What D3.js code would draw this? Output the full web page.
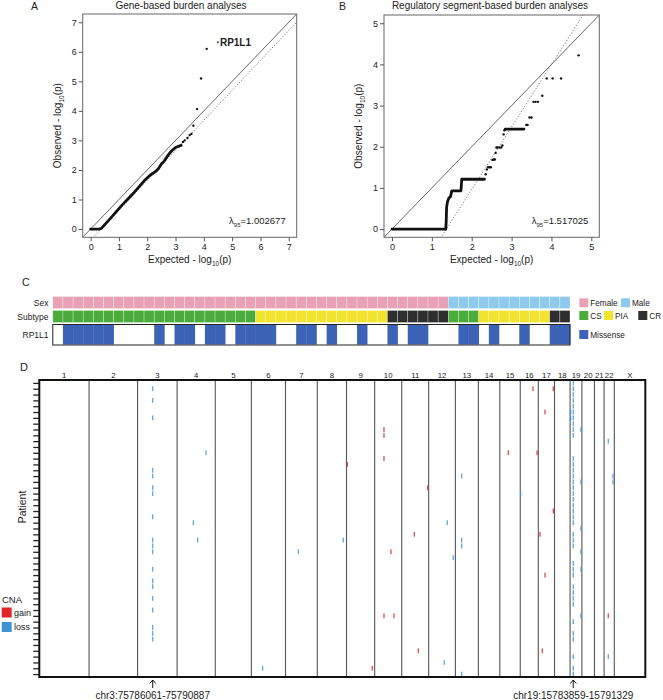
<!DOCTYPE html>
<html>
<head>
<meta charset="utf-8">
<script src="https://cdn.jsdelivr.net/npm/d3@7"></script>
<style>
  body { margin: 0; background: #fff; }
  text { font-family: "Liberation Sans", Arial, sans-serif; fill: #222; }
</style>
</head>
<body>
<div id="fig"></div>
<script>
// ---------------- data ----------------
// panel A: gene-based QQ (expected, observed)
var geneQQDense = [[0,0],[0.1,0],[0.2,0],[0.3,0],[0.38,0.02],[0.5,0.15],[0.7,0.36],[0.9,0.58],[1.1,0.8],[1.3,1.0],
  [1.5,1.2],[1.7,1.42],[1.9,1.64],[2.1,1.82],[2.3,1.95],[2.4,2.05],[2.5,2.2],[2.6,2.3],[2.7,2.45],[2.8,2.58],
  [2.9,2.68],[3.0,2.76],[3.1,2.8],[3.2,2.83]];
var geneQQTail = [[3.26,2.95],[3.32,3.0],[3.42,3.08],[3.5,3.18],[3.56,3.22],[3.63,3.5],[3.76,4.06],[3.9,5.1],[4.1,6.1]];
var geneTicks = [0,1,2,3,4,5,6,7];
var geneFit = {slope: 1.015, intercept: -0.38};
var geneLambda = "1.002677";
var geneTop = {label: "\u00b7RP1L1", x: 4.45, y: 6.31};

// panel B: regulatory segment QQ
var regQQDense = [[0,0],[0.5,0],[1.0,0],[1.35,0],[1.36,0.18],[1.37,0.52],[1.39,0.66],[1.43,0.76],[1.47,0.79],
  [1.5,0.93],[1.6,0.93],[1.73,0.93],[1.75,1.21],[2.0,1.21],[2.32,1.21]];
var regQQMid = [[2.84,2.43],[3.0,2.43],[3.2,2.43],[3.31,2.43]];
var regQQTail = [[2.35,1.33],[2.38,1.45],[2.41,1.5],[2.45,1.5],[2.48,1.5],[2.52,1.68],[2.55,1.69],[2.58,1.69],
  [2.6,1.85],[2.62,1.98],[2.65,1.98],[2.7,1.98],[2.74,1.98],[2.77,2.03],[2.8,2.3],[2.82,2.4],
  [3.37,2.53],[3.4,2.53],[3.45,2.71],[3.5,2.71],[3.55,3.09],[3.6,3.09],[3.66,3.09],[3.77,3.24],
  [3.88,3.66],[4.03,3.66],[4.24,3.66],[4.68,4.22]];
var regTicks = [0,1,2,3,4,5];
var regFit = {slope: 1.517, intercept: -2.07};
var regLambda = "1.517025";

// panel C: 51 samples
var sexRuns = [["Female",39],["Male",12]];
var subtypeRuns = [["CS",20],["PIA",13],["CR",6],["CS",3],["PIA",7],["CR",2]];
var missenseSamples = [1,2,3,4,5,10,12,13,15,16,18,19,20,21,24,25,27,30,33,35,36,40,41,43,46,49,50];

// panel D: genome (hg19, Mb) and CNA calls per patient
var chromNames = ["1","2","3","4","5","6","7","8","9","10","11","12","13","14","15","16","17","18","19","20","21","22","X"];
var chromLengthsMb = [249.25,243.2,198.02,191.15,180.92,171.12,159.14,146.36,141.21,135.53,135.01,133.85,
  115.17,107.35,102.53,90.35,81.2,78.08,59.13,63.03,48.13,51.3,155.27];
var chr3LossPatients = [1,3,6,15,16,18,19,23,27,28,29,32,34,35,37,39,42,43,44];
var chr19LossPatients = [0,1,2,3,4,5,6,7,8,9,13,14,15,16,17,18,19,20,21,22,23,24,26,27,28,31,32,33,35,36,37,38,41,43,44,47,49,50];
// [chromosome, position Mb, patient, type]
var otherCNA = [
  ["4",144.8,12,"loss"],["4",81,24,"loss"],["4",103,27,"loss"],["6",56.6,49,"loss"],["7",64,29,"loss"],
  ["8",130,27,"loss"],["9",4,14,"gain"],["10",46.6,8,"gain"],["10",46.6,9,"gain"],["10",46.6,13,"gain"],
  ["11",130,18,"gain"],["13",31.6,16,"loss"],["15",42.6,12,"gain"],["16",2,19,"loss"],["16",63.6,1,"gain"],
  ["16",84,12,"gain"],["17",75,1,"gain"],["17",33.6,5,"gain"],["17",75,22,"gain"],["19",3,5,"loss"],["19",3,6,"loss"],
  ["19",54.6,8,"loss"],["19",54.6,17,"loss"],["19",54.6,25,"loss"],["19",54.6,29,"loss"],["19",54.6,32,"loss"],
  ["19",54.6,40,"loss"],["22",21,10,"loss"],["22",44.6,16,"loss"],["22",44.6,17,"loss"],["12",93,24,"loss"],
  ["11",63,26,"gain"],["17",8.5,26,"gain"],["10",81.6,29,"gain"],["13",31.6,27,"loss"],["13",31.6,28,"loss"],
  ["12",123,30,"loss"],["17",33.6,33,"gain"],["10",46.6,40,"gain"],["10",96.7,40,"gain"],["11",83,46,"gain"],
  ["12",78,48,"loss"],["9",129,49,"gain"],["13",31.6,50,"loss"],["17",20,46,"gain"],["22",21,40,"gain"],["22",21,47,"loss"]
];
var markedLoci = [["3",75.786061,"chr3:75786061-75790887"],["19",15.783859,"chr19:15783859-15791329"]];

// ---------------- drawing ----------------
var W = 663, H = 700;
var svg = d3.select("#fig").append("svg").attr("width", W).attr("height", H);

function addLogLabel(sel, pre) {
  sel.append("tspan").text(pre + " - log");
  sel.append("tspan").attr("font-size", 6.5).attr("dy", 3).text("10");
  sel.append("tspan").attr("dy", -3).text("(p)");
}

function qqPanel(o) {
  var x = d3.scaleLinear().domain(o.domain).range([o.left, o.right]);
  var y = d3.scaleLinear().domain(o.domain).range([o.bottom, o.top]);
  var g = svg.append("g");

  g.append("clipPath").attr("id", o.id + "clip").append("rect")
    .attr("x", o.left).attr("y", o.top).attr("width", o.right - o.left).attr("height", o.bottom - o.top);

  var d0 = o.domain[0], d1 = o.domain[1];
  var lines = g.append("g").attr("clip-path", "url(#" + o.id + "clip)");
  lines.append("line")
    .attr("x1", x(d0)).attr("y1", y(d0)).attr("x2", x(d1)).attr("y2", y(d1))
    .attr("stroke", "#555").attr("stroke-width", 0.9);
  lines.append("line")
    .attr("x1", x(d0)).attr("y1", y(o.fit.slope * d0 + o.fit.intercept))
    .attr("x2", x(d1)).attr("y2", y(o.fit.slope * d1 + o.fit.intercept))
    .attr("stroke", "#666").attr("stroke-width", 0.9).attr("stroke-dasharray", "1.2,1.8");

  var line = d3.line().x(function(d){ return x(d[0]); }).y(function(d){ return y(d[1]); });
  o.dense.forEach(function(run) {
    lines.append("path").datum(run).attr("d", line)
      .attr("fill", "none").attr("stroke", "#111").attr("stroke-width", 2.8)
      .attr("stroke-linejoin", "round").attr("stroke-linecap", "round");
  });
  lines.selectAll("circle.pt").data(o.tail).enter().append("circle")
    .attr("class", "pt")
    .attr("cx", function(d){ return x(d[0]); })
    .attr("cy", function(d){ return y(d[1]); })
    .attr("r", 1.2).attr("fill", "#111");

  g.append("rect").attr("x", o.left).attr("y", o.top)
    .attr("width", o.right - o.left).attr("height", o.bottom - o.top)
    .attr("fill", "none").attr("stroke", "#666").attr("stroke-width", 1);

  var xa = g.append("g").attr("transform", "translate(0," + o.bottom + ")")
    .call(d3.axisBottom(x).tickValues(o.ticks).tickSize(4).tickPadding(2).tickFormat(d3.format("d")));
  var ya = g.append("g").attr("transform", "translate(" + o.left + ",0)")
    .call(d3.axisLeft(y).tickValues(o.ticks).tickSize(4).tickPadding(2).tickFormat(d3.format("d")));
  [xa, ya].forEach(function(a) {
    a.select(".domain").remove();
    a.selectAll(".tick line").attr("stroke", "#555");
    a.selectAll("text").attr("font-size", 9).attr("fill", "#333")
      .attr("font-family", "'Liberation Sans', Arial, sans-serif");
  });

  g.append("text").attr("x", o.titleX).attr("y", 9).attr("text-anchor", "middle")
    .attr("font-size", 10).text(o.title);
  g.append("text").attr("x", o.letterX).attr("y", 10).attr("font-size", 10.5).text(o.letter);

  var xt = g.append("text").attr("x", (o.left + o.right) / 2).attr("y", 263)
    .attr("text-anchor", "middle").attr("font-size", 10);
  addLogLabel(xt, "Expected");
  var yt = g.append("text").attr("text-anchor", "middle").attr("font-size", 10)
    .attr("transform", "translate(" + (o.left - 22) + "," + ((o.top + o.bottom) / 2) + ") rotate(-90)");
  addLogLabel(yt, "Observed");

  var lt = g.append("text").attr("x", o.right - 11).attr("y", o.bottom - 13)
    .attr("text-anchor", "end").attr("font-size", 9.5);
  lt.append("tspan").text("\u03bb");
  lt.append("tspan").attr("font-size", 6).attr("dy", 2.5).text("95");
  lt.append("tspan").attr("dy", -2.5).text("=" + o.lambda);
  return {x: x, y: y, g: g};
}

var pa = qqPanel({id: "a", domain: [-0.28, 7.28], left: 82.7, right: 296.7, top: 14, bottom: 237.3,
  ticks: geneTicks, fit: geneFit, dense: [geneQQDense], tail: geneQQTail, lambda: geneLambda,
  title: "Gene-based burden analyses", titleX: 181, letter: "A", letterX: 31});
pa.g.append("text").attr("x", pa.x(geneTop.x)).attr("y", pa.y(geneTop.y) + 3.5)
  .attr("font-size", 10).attr("font-weight", "bold").text(geneTop.label);

qqPanel({id: "b", domain: [-0.2, 5.2], left: 384, right: 599.3, top: 15, bottom: 237.3,
  ticks: regTicks, fit: regFit, dense: [regQQDense, regQQMid], tail: regQQTail, lambda: regLambda,
  title: "Regulatory segment-based burden analyses", titleX: 490, letter: "B", letterX: 339});

// ---------------- panel C ----------------
var sampleSex = [], sampleSubtype = [];
sexRuns.forEach(function(r){ for (var i = 0; i < r[1]; i++) sampleSex.push(r[0]); });
subtypeRuns.forEach(function(r){ for (var i = 0; i < r[1]; i++) sampleSubtype.push(r[0]); });
var nSamples = sampleSex.length;
var colC = {Female: "#e8a1b5", Male: "#8dcaee", CS: "#4aac3b", PIA: "#f1e32e", CR: "#2e2e2e", Missense: "#3c63b6"};

var xs = d3.scaleBand().domain(d3.range(nSamples)).range([52.8, 570]);
var gc = svg.append("g");
gc.append("text").attr("x", 22).attr("y", 286).attr("font-size", 10.5).text("C");

function cellRow(vals, y0, h) {
  gc.append("g").selectAll("rect").data(vals).enter().append("rect")
    .attr("x", function(d, i){ return xs(i); }).attr("y", y0)
    .attr("width", xs.bandwidth()).attr("height", h)
    .attr("fill", function(d){ return colC[d]; })
    .attr("stroke", "rgba(255,255,255,0.45)").attr("stroke-width", 0.6);
}
cellRow(sampleSex, 296.5, 12);
cellRow(sampleSubtype, 310.5, 12);

gc.append("g").selectAll("rect").data(missenseSamples).enter().append("rect")
  .attr("x", function(d){ return xs(d); }).attr("y", 325)
  .attr("width", xs.bandwidth() + 0.3).attr("height", 19.5)
  .attr("fill", colC.Missense);
gc.append("rect").attr("x", 52.8).attr("y", 324.5).attr("width", 570 - 52.8).attr("height", 20.5)
  .attr("fill", "none").attr("stroke", "#222").attr("stroke-width", 1);

[["Sex", 305.5], ["Subtype", 319.5], ["RP1L1", 338]].forEach(function(r) {
  gc.append("text").attr("x", 48.5).attr("y", r[1]).attr("text-anchor", "end")
    .attr("font-size", 8.5).attr("fill", "#444").text(r[0]);
});

var legendC = [[["Female", 579.3], ["Male", 621]], [["CS", 579.3], ["PIA", 604], ["CR", 638.3]], [["Missense", 579.3]]];
var legendY = [298.3, 311, 330];
legendC.forEach(function(row, ri) {
  row.forEach(function(it) {
    gc.append("rect").attr("x", it[1]).attr("y", legendY[ri]).attr("width", 9).attr("height", 9)
      .attr("fill", colC[it[0]]);
    gc.append("text").attr("x", it[1] + 11).attr("y", legendY[ri] + 8).attr("font-size", 8.2)
      .attr("fill", "#444").text(it[0]);
  });
});

// ---------------- panel D ----------------
var chromStart = [0].concat(Array.from(d3.cumsum(chromLengthsMb)));
var genomeTotal = chromStart[chromStart.length - 1];
var startOf = {};
chromNames.forEach(function(c, i){ startOf[c] = chromStart[i]; });

var nPatients = nSamples;
var boxL = 39.3, boxR = 645.3, boxT = 380, boxB = 677;
var xg = d3.scaleLinear().domain([0, genomeTotal]).range([boxL, boxR]);
var yp = d3.scaleBand().domain(d3.range(nPatients)).range([boxT, boxB]);

var gd = svg.append("g");
gd.append("text").attr("x", 20).attr("y", 370.5).attr("font-size", 11).text("D");

gd.append("g").selectAll("text").data(chromNames).enter().append("text")
  .attr("x", function(d, i){ return xg(chromStart[i] + chromLengthsMb[i] / 2); })
  .attr("y", 377.5).attr("text-anchor", "middle").attr("font-size", 7.8).attr("fill", "#333")
  .text(function(d){ return d; });

gd.append("g").selectAll("line").data(chromStart.slice(1, -1)).enter().append("line")
  .attr("x1", function(d){ return xg(d); }).attr("x2", function(d){ return xg(d); })
  .attr("y1", boxT).attr("y2", boxB).attr("stroke", "#555").attr("stroke-width", 1.1);

var events = [];
chr3LossPatients.forEach(function(p){ events.push(["3", 75.786061, p, "loss"]); });
chr19LossPatients.forEach(function(p){ events.push(["19", 15.783859, p, "loss"]); });
otherCNA.forEach(function(e){ events.push(e); });
var cnaColor = {gain: "#e0262a", loss: "#3f93d3"};

gd.append("g").selectAll("rect").data(events).enter().append("rect")
  .attr("x", function(d){ return xg(startOf[d[0]] + d[1]) - 0.6; })
  .attr("y", function(d){ return yp(d[2]) + 0.5; })
  .attr("width", 1.2).attr("height", yp.bandwidth() - 1)
  .attr("fill", function(d){ return cnaColor[d[3]]; })
  .attr("opacity", 0.9);

gd.append("rect").attr("x", boxL).attr("y", boxT).attr("width", boxR - boxL).attr("height", boxB - boxT)
  .attr("fill", "none").attr("stroke", "#111").attr("stroke-width", 2);

var ya = gd.append("g").attr("transform", "translate(" + boxL + ",0)")
  .call(d3.axisLeft(d3.scalePoint().domain(d3.range(nPatients)).range([yp(0) + yp.bandwidth() / 2, yp(nPatients - 1) + yp.bandwidth() / 2]))
    .tickSize(6).tickFormat(""));
ya.select(".domain").remove();
ya.selectAll(".tick line").attr("stroke", "#222").attr("stroke-width", 1.3);

gd.append("text").attr("text-anchor", "middle").attr("font-size", 10.5)
  .attr("transform", "translate(26,507) rotate(-90)").text("Patient");

gd.append("text").attr("x", 2).attr("y", 602.5).attr("font-size", 9.5).attr("fill", "#333").text("CNA");
[["gain", 607.5], ["loss", 622]].forEach(function(r) {
  gd.append("rect").attr("x", 1.7).attr("y", r[1]).attr("width", 10).attr("height", 10).attr("fill", cnaColor[r[0]]);
  gd.append("text").attr("x", 14).attr("y", r[1] + 8).attr("font-size", 9).attr("fill", "#333").text(r[0]);
});

markedLoci.forEach(function(m) {
  var ax = xg(startOf[m[0]] + m[1]);
  gd.append("line").attr("x1", ax).attr("x2", ax).attr("y1", 688).attr("y2", 680)
    .attr("stroke", "#111").attr("stroke-width", 1);
  gd.append("path").attr("d", "M" + (ax - 3) + ",683.5L" + ax + ",680L" + (ax + 3) + ",683.5")
    .attr("fill", "none").attr("stroke", "#111").attr("stroke-width", 1);
  gd.append("text").attr("x", ax).attr("y", 698.5).attr("text-anchor", "middle")
    .attr("font-size", 10).text(m[2]);
});
</script>
</body>
</html>
